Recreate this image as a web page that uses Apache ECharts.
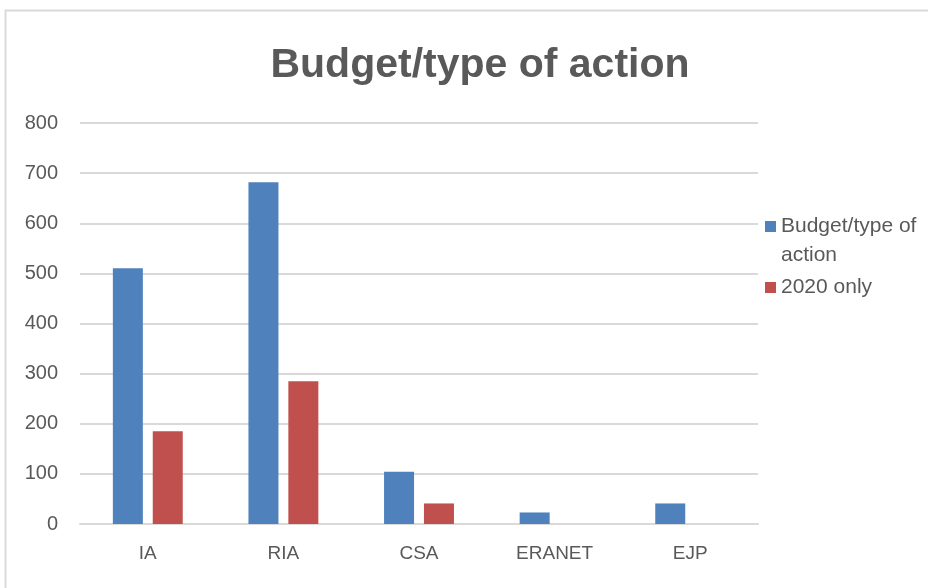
<!DOCTYPE html>
<html><head><meta charset="utf-8">
<script src="https://cdn.jsdelivr.net/npm/echarts@6/dist/echarts.min.js"></script>
<style>html,body{margin:0;padding:0;background:#fff}#c{width:928px;height:588px}</style>
</head><body><div id="c"></div>
<script>
const categories = ['IA', 'RIA', 'CSA', 'ERANET', 'EJP'];
const budgetValues = [510, 682, 104, 23, 41];
const only2020Values = [185, 285, 41, null, null];
const yTicks = [0, 100, 200, 300, 400, 500, 600, 700, 800];
const seriesNames = ['Budget/type of action', '2020 only'];

const FONT = '"Liberation Sans", Arial, sans-serif';
const chart = echarts.init(document.getElementById('c'));
chart.setOption({
  animation: false,
  backgroundColor: '#fff',
  title: {
    text: 'Budget/type of action', left: 475, top: 40, textAlign: 'center',
    textStyle: { fontFamily: FONT, fontSize: 41, fontWeight: 'bold', color: '#595959' }
  },
  graphic: [{
    type: 'rect', shape: { x: 5.5, y: 10.5, width: 1000, height: 1000 },
    style: { fill: 'none', stroke: '#d9d9d9', lineWidth: 2 }, silent: true
  }],
  legend: {
    orient: 'vertical', left: 765, top: 183, padding: 0, itemGap: 3,
    itemWidth: 11, itemHeight: 11, icon: 'rect',
    textStyle: { fontFamily: FONT, fontSize: 21, color: '#595959', lineHeight: 29 },
    formatter: n => n === seriesNames[0] ? ' \nBudget/type of\naction' : n,
    data: seriesNames
  },
  grid: { left: 80, right: 170, top: 123, bottom: 64, containLabel: false },
  xAxis: {
    type: 'category', data: categories,
    axisLine: { lineStyle: { color: '#d9d9d9', width: 2 } },
    axisTick: { show: false },
    axisLabel: { fontFamily: FONT, fontSize: 19, color: '#595959', margin: 20 }
  },
  yAxis: {
    type: 'value', min: yTicks[0], max: yTicks[yTicks.length - 1], interval: 100,
    axisLine: { show: false }, axisTick: { show: false },
    splitLine: { lineStyle: { color: '#d9d9d9', width: 2 } },
    axisLabel: { fontFamily: FONT, fontSize: 20, color: '#595959', margin: 22 }
  },
  series: [
    { name: seriesNames[0], type: 'bar', data: budgetValues, barWidth: 30, barGap: '33%',
      itemStyle: { color: '#4F81BD' } },
    { name: seriesNames[1], type: 'bar', data: only2020Values, barWidth: 30,
      itemStyle: { color: '#C0504D' } }
  ]
});
</script></body></html>
